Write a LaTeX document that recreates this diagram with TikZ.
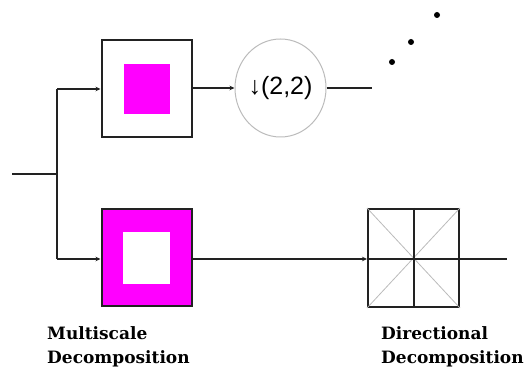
\documentclass[tikz,border=0pt]{standalone}
\usepackage{fontspec}
\setmainfont{DejaVu Serif}
\newfontfamily\arialfont{Liberation Sans}
\usetikzlibrary{arrows.meta,shapes.geometric}
\definecolor{lineg}{HTML}{222222}
\definecolor{mag}{HTML}{FF00FF}
\definecolor{lgray}{HTML}{BBBBBB}
\tikzset{
  wire/.style={draw=lineg,line width=2pt},
  arr/.style={wire,-{Stealth[length=5pt,width=4.5pt]}},
  blockbox/.style={draw=lineg,line width=2pt,minimum width=90pt,minimum height=97pt,inner sep=0pt},
  lbl/.style={font=\fontsize{17}{24}\selectfont\bfseries,align=left,anchor=north west,inner sep=0pt},
  dotmark/.style={circle,fill=black,inner sep=0pt,minimum size=6pt}
}
\begin{document}
\begin{tikzpicture}[x=1pt,y=-1pt]
\useasboundingbox (0,0) rectangle (528,382);
% input and split
\coordinate (in) at (12,174);
\coordinate (split) at (57,174);
\coordinate (ttop) at (57,89);
\coordinate (tbot) at (57,259);
% top box
\node[blockbox] (box1) at (146.5,88.5) {};
\node[fill=mag,minimum width=46pt,minimum height=50pt,inner sep=0pt] (in1) at (147,89) {};
% bottom box
\node[blockbox,fill=mag] (box2) at (146.5,258) {};
\node[fill=white,minimum width=47pt,minimum height=52pt,inner sep=0pt] (in2) at (146.5,258) {};
% downsampler
\node[ellipse,draw=lgray,line width=1pt,minimum width=91pt,minimum height=98pt,inner sep=0pt,
      font=\arialfont\fontsize{25}{27}\selectfont] (ds) at (280.5,88) {↓(2,2)};
\coordinate (topend) at (372,88);
% directional box
\node[blockbox,minimum width=91pt,minimum height=98pt] (dir) at (413.5,258) {};
\draw[lgray,line width=0.8pt] (dir.north west) -- (dir.south east);
\draw[lgray,line width=0.8pt] (dir.north east) -- (dir.south west);
\draw[wire] (dir.north) -- (dir.south);
\coordinate (botend) at (507,259);
% dots
\node[dotmark] (d1) at (392,62) {};
\node[dotmark] (d2) at (411,42) {};
\node[dotmark] (d3) at (437,15) {};
% connectors
\draw[wire] (in) -- (split);
\draw[wire] (ttop) -- (tbot);
\draw[arr] (ttop) -- (box1.west |- ttop);
\draw[arr] (tbot) -- (box2.west |- tbot);
\draw[arr] (box1.east |- ds.west) -- (ds.west);
\draw[wire] (ds.east) -- (topend);
\draw[arr] (box2.east |- tbot) -- (dir.west |- tbot);
\draw[wire] (dir.west |- tbot) -- (botend);
% labels
\node[lbl] (l1) at (47,326) {Multiscale\\Decomposition};
\node[lbl] (l2) at (381,326) {Directional\\Decomposition};
\end{tikzpicture}
\end{document}
